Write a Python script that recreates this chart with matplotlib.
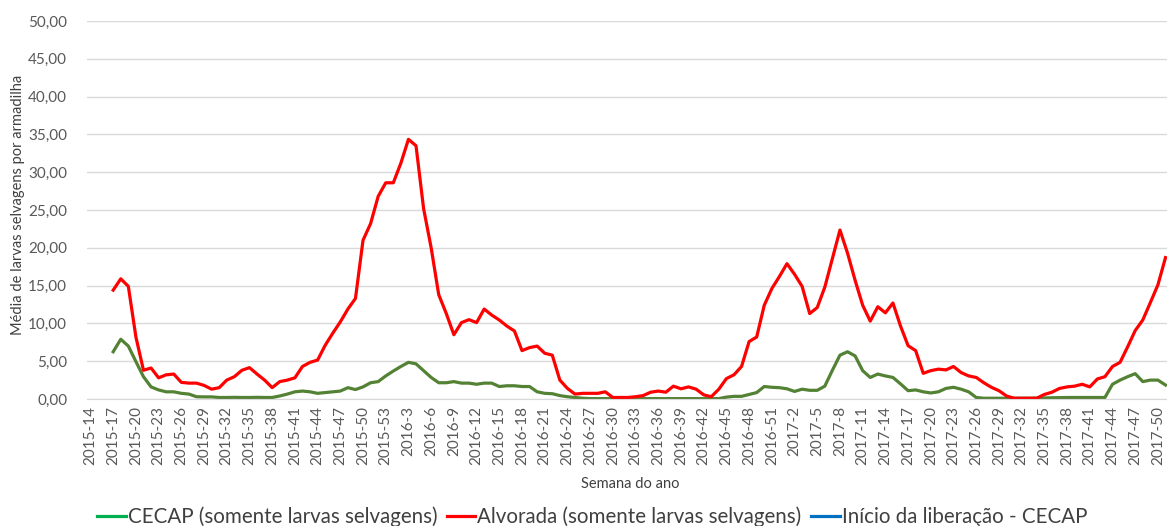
import matplotlib as M
M.use('agg')
import numpy as N
import matplotlib.pyplot as plt
from matplotlib.lines import Line2D

plt.rcParams['font.family'] = ['Lato', 'DejaVu Sans']

# week categories, 2015-14 .. 2017-51
weeks = ([f"2015-{w}" for w in range(14, 54)] +
         [f"2016-{w}" for w in range(1, 53)] +
         [f"2017-{w}" for w in range(1, 52)])
first_week = "2015-17"

# mean wild larvae per trap, starting at 2015-17
alvorada = [14.4, 15.9, 14.9, 8.2, 3.8, 4.1, 2.8, 3.2, 3.3, 2.2,
            2.1, 2.1, 1.8, 1.3, 1.5, 2.5, 2.95, 3.8, 4.15, 3.3,
            2.5, 1.5, 2.3, 2.5, 2.8, 4.3, 4.85, 5.15, 7.1, 8.7,
            10.2, 11.9, 13.3, 21.0, 23.2, 26.8, 28.6, 28.6, 31.2, 34.35,
            33.5, 25.2, 20.0, 13.8, 11.3, 8.5, 10.1, 10.5, 10.1, 11.9,
            11.1, 10.45, 9.65, 9.0, 6.4, 6.8, 7.0, 6.05, 5.8, 2.5,
            1.4, 0.65, 0.75, 0.75, 0.75, 0.95, 0.2, 0.2, 0.2, 0.3,
            0.45, 0.9, 1.05, 0.9, 1.7, 1.35, 1.6, 1.3, 0.55, 0.3,
            1.3, 2.7, 3.2, 4.3, 7.6, 8.2, 12.4, 14.6, 16.2, 17.9,
            16.5, 14.9, 11.3, 12.1, 14.8, 18.6, 22.35, 19.3, 15.7, 12.4,
            10.3, 12.2, 11.4, 12.7, 9.65, 7.05, 6.4, 3.4, 3.75, 3.95,
            3.85, 4.3, 3.5, 3.05, 2.85, 2.15, 1.55, 1.1, 0.4, 0.1,
            0.1, 0.1, 0.1, 0.6, 0.9, 1.4, 1.6, 1.7, 1.95, 1.6,
            2.65, 2.95, 4.3, 4.85, 6.9, 9.05, 10.45, 12.75, 15.1, 18.7]

cecap = [6.25, 7.9, 7.0, 4.95, 2.95, 1.6, 1.2, 0.95, 0.95, 0.75,
         0.65, 0.3, 0.28, 0.28, 0.2, 0.2, 0.22, 0.2, 0.2, 0.22,
         0.2, 0.2, 0.4, 0.65, 0.95, 1.05, 0.95, 0.75, 0.85, 0.95,
         1.05, 1.5, 1.25, 1.6, 2.15, 2.3, 3.05, 3.7, 4.3, 4.85,
         4.65, 3.75, 2.85, 2.15, 2.15, 2.3, 2.1, 2.1, 1.95, 2.1,
         2.1, 1.65, 1.75, 1.75, 1.65, 1.65, 0.95, 0.75, 0.7, 0.45,
         0.3, 0.2, 0.1, 0.05, 0.05, 0.05, 0.05, 0.05, 0.05, 0.05,
         0.05, 0.05, 0.05, 0.05, 0.05, 0.05, 0.05, 0.05, 0.05, 0.05,
         0.05, 0.25, 0.35, 0.35, 0.6, 0.85, 1.65, 1.55, 1.5, 1.35,
         1.0, 1.3, 1.15, 1.15, 1.7, 3.8, 5.8, 6.25, 5.7, 3.75,
         2.85, 3.3, 3.05, 2.85, 2.0, 1.1, 1.2, 0.95, 0.8, 0.95,
         1.4, 1.55, 1.3, 0.95, 0.2, 0.1, 0.1, 0.1, 0.1, 0.1,
         0.1, 0.1, 0.12, 0.15, 0.15, 0.18, 0.2, 0.2, 0.2, 0.2,
         0.2, 0.2, 1.95, 2.5, 2.95, 3.35, 2.3, 2.5, 2.5, 1.85]

names = ['CECAP (somente larvas selvagens)',
         'Alvorada (somente larvas selvagens)',
         'Início da liberação - CECAP']

W, H = 1167, 526
fig = plt.figure(figsize=(W/100., H/100.), dpi=100)
ax = fig.add_axes([86.7/W, 127./H, 1.0 - 86.7/W, 378./H])

x0 = weeks.index(first_week)
xr = N.arange(x0, x0 + len(alvorada))
xc = N.arange(x0, x0 + len(cecap))
ax.plot(xc, cecap, color='#548235', lw=2.3, solid_joinstyle='round')
ax.plot(xr, alvorada, color='#ff0000', lw=2.3, solid_joinstyle='round')

ax.set_xlim(-0.5, 142.2)
ax.set_ylim(0, 50)
yt = N.arange(0, 51, 5)
ax.set_yticks(yt)
ax.set_yticklabels([('%.2f' % v).replace('.', ',') for v in yt])
ax.set_xticks(N.arange(0, len(weeks), 3))
ax.set_xticklabels(weeks[::3], rotation=90)
ax.tick_params(axis='both', length=0, colors='#595959', labelsize=11)
ax.tick_params(axis='y', pad=14)
ax.tick_params(axis='x', pad=5)
ax.grid(axis='y', color='#d9d9d9', lw=1)
ax.set_axisbelow(True)
for s in ('top', 'right', 'left'):
    ax.spines[s].set_visible(False)
ax.spines['bottom'].set_color('#d9d9d9')

fig.text(18./W, 1 - 205./H, 'Média de larvas selvagens por armadilha',
         rotation=90, ha='center', va='center', color='#404040', fontsize=10.5)
fig.text(630./W, 1 - 484./H, 'Semana do ano', ha='center', va='center',
         color='#404040', fontsize=10.5)

handles = [Line2D([], [], color='#00b050', lw=2.3),
           Line2D([], [], color='#ff0000', lw=2.3),
           Line2D([], [], color='#0070c0', lw=2.3)]
fig.legend(handles, names, loc='center', bbox_to_anchor=(592./W, 1 - 517./H),
           ncol=3, frameon=False, fontsize=14.8, handlelength=1.4,
           handletextpad=0.1, columnspacing=0.45, labelcolor='#404040',
           borderaxespad=0, borderpad=0)

fig.savefig('out.png', dpi=100)
plt.close(fig)
